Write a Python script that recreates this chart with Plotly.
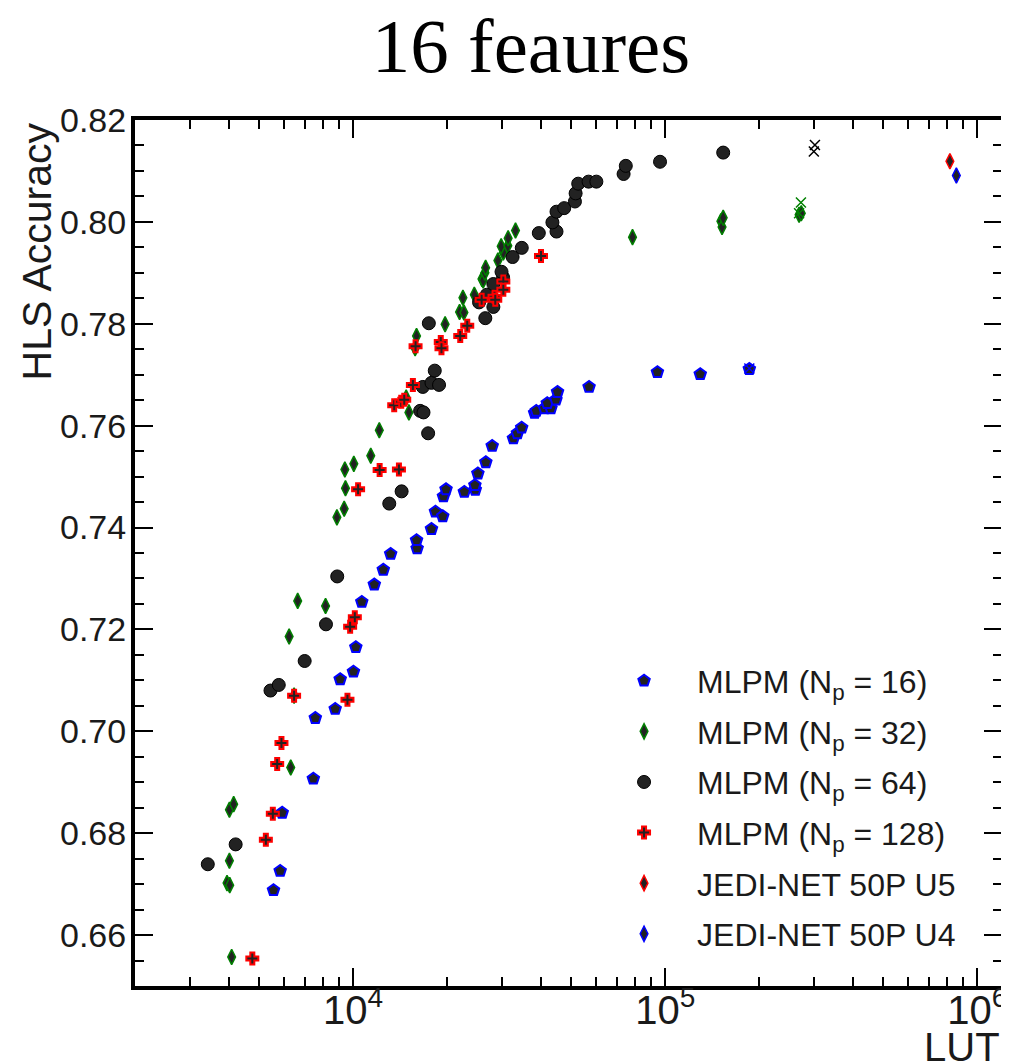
import plotly.graph_objects as go
import numpy as np

# ---------------- data (LUT, HLS accuracy) ----------------
mlpm16_lut = [5557, 5838, 5925, 7455, 7565, 8761, 9089, 10023, 10200, 10660,
              11690, 12492, 13190, 16035, 15965, 17825, 18356, 19370, 19470, 19845,
              22715, 24627, 24553, 25102, 26620, 27898, 32630, 33600, 34674, 38148,
              38625, 41055, 43030, 41880, 44650, 45180, 57020, 94430, 129500, 186000]
mlpm16_acc = [0.6688, 0.6726, 0.6840, 0.6907, 0.7026, 0.7044, 0.7102, 0.7117, 0.7165, 0.7254,
              0.7288, 0.7317, 0.7348, 0.7359, 0.7375, 0.7397, 0.7431, 0.7422, 0.7461, 0.7475,
              0.7470, 0.7474, 0.7483, 0.7506, 0.7528, 0.7560, 0.7575, 0.7585, 0.7596, 0.7625,
              0.7629, 0.7634, 0.7634, 0.7644, 0.7651, 0.7666, 0.7676, 0.7705, 0.7701, 0.7711]

mlpm32_lut = [4081, 3944, 4023, 4014, 4014, 4142, 6310, 6469, 6236, 6643,
              8160, 8872, 9361, 9450, 9408, 10051, 11390, 12130, 15090, 14790,
              15800, 15965, 19710, 21930, 22650, 22480, 24450, 25870, 26100, 26440,
              26580, 29100, 30290, 29810, 31310, 31380, 33140, 78560, 150800, 152100,
              153400, 268500, 272900]
mlpm32_acc = [0.6557, 0.6702, 0.6698, 0.6746, 0.6846, 0.6857, 0.6929, 0.7070, 0.7186, 0.7256,
              0.7246, 0.7420, 0.7437, 0.7477, 0.7514, 0.7525, 0.7541, 0.7591, 0.7626, 0.7655,
              0.7752, 0.7776, 0.7799, 0.7823, 0.7822, 0.7851, 0.7857, 0.7888, 0.7885, 0.7900,
              0.7910, 0.7924, 0.7940, 0.7952, 0.7953, 0.7968, 0.7983, 0.7970, 0.8001, 0.7990,
              0.8008, 0.8014, 0.8017]

mlpm64_lut = [3422, 4203, 5435, 5777, 6993, 8184, 8892, 13055, 14300, 17390,
              16394, 16807, 16720, 17825, 18850, 18262, 17480, 26520, 28140, 25320,
              26810, 28140, 30230, 29890, 32430, 34700, 39350, 44840, 43510, 44840,
              47460, 51370, 51630, 52630, 56810, 60170, 73560, 74760, 96250, 153400]
mlpm64_acc = [0.6739, 0.6778, 0.7080, 0.7091, 0.7138, 0.7210, 0.7304, 0.7447, 0.7471, 0.7585,
              0.7629, 0.7626, 0.7676, 0.7684, 0.7680, 0.7708, 0.7801, 0.7811, 0.7833, 0.7842,
              0.7857, 0.7878, 0.7891, 0.7902, 0.7931, 0.7949, 0.7978, 0.7981, 0.7999, 0.8020,
              0.8027, 0.8040, 0.8056, 0.8075, 0.8079, 0.8079, 0.8094, 0.8110, 0.8118, 0.8136]

mlpm128_lut = [4753, 5252, 5529, 5710, 5893, 6469, 9590, 9781, 10125, 10373,
               12160, 14020, 13540, 14260, 14580, 15540, 15850, 19090, 19190, 22040,
               23210, 25810, 28380, 28540, 30290, 30290, 39990]
mlpm128_acc = [0.6554, 0.6787, 0.6838, 0.6936, 0.6977, 0.7070, 0.7062, 0.7205, 0.7224, 0.7475,
               0.7513, 0.7514, 0.7640, 0.7647, 0.7651, 0.7680, 0.7756, 0.7764, 0.7752, 0.7776,
               0.7796, 0.7847, 0.7853, 0.7847, 0.7883, 0.7867, 0.7933]

jedi_u5_lut = [817000]
jedi_u5_acc = [0.8119]
jedi_u4_lut = [857000]
jedi_u4_acc = [0.8091]

# highlighted ("x") points
x16_lut, x16_acc = [186000], [0.7712]
x32_lut, x32_acc = [272200, 268500], [0.8038, 0.8017]
x64_lut, x64_acc = [301800, 299400], [0.8151, 0.8138]

legend_names = ["MLPM (N<sub>p</sub> = 16)", "MLPM (N<sub>p</sub> = 32)",
                "MLPM (N<sub>p</sub> = 64)", "MLPM (N<sub>p</sub> = 128)",
                "JEDI-NET 50P U5", "JEDI-NET 50P U4"]

x_major = [1e4, 1e5, 1e6]
x_major_text = ["10<sup>4</sup>", "10<sup>5</sup>", "10<sup>6</sup>"]
x_minor = [m * 10 ** e for e in (3, 4, 5) for m in range(2, 10)]

FILL = "#222222"

fig = go.Figure()


def add(xs, ys, name, symbol, size, lcolor, lwidth, fill=FILL, show=True, grp=None):
    fig.add_trace(go.Scatter(
        x=xs, y=ys, mode="markers", name=name, showlegend=show,
        legendgroup=grp if grp else name,
        marker=dict(symbol=symbol, size=size, color=fill,
                    line=dict(color=lcolor, width=lwidth)),
    ))


add(mlpm16_lut, mlpm16_acc, legend_names[0], "pentagon", 12, "#0000ff", 2)
add(mlpm32_lut, mlpm32_acc, legend_names[1], "diamond-tall", 11, "#008000", 1.5)
add(mlpm64_lut, mlpm64_acc, legend_names[2], "circle", 13, "#000000", 1)
add(mlpm128_lut, mlpm128_acc, legend_names[3], "cross", 10, "#ff0000", 2)
add(jedi_u5_lut, jedi_u5_acc, legend_names[4], "diamond-tall", 11, "#ff0000", 1.5)
add(jedi_u4_lut, jedi_u4_acc, legend_names[5], "diamond-tall", 11, "#0000ff", 1.5)
add(x16_lut, x16_acc, "x16", "x-thin", 10, "#0000ff", 1.5, fill="#0000ff", show=False, grp="g16x")
add(x32_lut, x32_acc, "x32", "x-thin", 10, "#008000", 1.5, fill="#008000", show=False, grp="g32x")
add(x64_lut, x64_acc, "x64", "x-thin", 10, "#000000", 1.5, fill="#000000", show=False, grp="g64x")

TXT = "#1a1a1a"
W, H = 1001, 1054   # page body adds an 8px margin

fig.update_layout(
    width=W, height=H,
    margin=dict(l=127, r=3, t=112, b=76),
    paper_bgcolor="white", plot_bgcolor="white",
    font=dict(family="Liberation Sans", color=TXT),
    title=dict(text="16 feaures", font=dict(family="Liberation Serif", size=77, color="#000000"),
               x=523 / W, xanchor="center", xref="container",
               y=1 - 10 / H, yanchor="top", yref="container"),
    showlegend=True,
    legend=dict(x=0.526, y=0.384, xanchor="left", yanchor="top",
                bgcolor="rgba(0,0,0,0)", borderwidth=0,
                font=dict(family="Liberation Sans", size=32, color=TXT),
                itemwidth=96, tracegroupgap=6, traceorder="grouped",
                itemsizing="trace"),
)

fig.update_xaxes(
    type="log", range=[np.log10(2000), np.log10(1.2e6)],
    tickvals=x_major, ticktext=x_major_text,
    ticks="inside", ticklen=18, tickwidth=2, tickcolor="#000000",
    showline=True, linewidth=4, linecolor="#000000", mirror="allticks",
    showgrid=False, zeroline=False, ticklabelstandoff=-14,
    tickfont=dict(family="Liberation Sans Narrow, Liberation Sans", size=40, color=TXT),
    minor=dict(tickvals=x_minor, ticks="inside", ticklen=9, tickwidth=1.5,
               tickcolor="#000000", showgrid=False),
)
fig.update_yaxes(
    range=[0.65, 0.82], tick0=0.66, dtick=0.02, tickformat=".2f",
    ticks="inside", ticklen=18, tickwidth=2, tickcolor="#000000",
    showline=True, linewidth=4, linecolor="#000000", mirror="allticks",
    showgrid=False, zeroline=False, ticklabelstandoff=-2,
    tickfont=dict(family="Liberation Sans", size=34, color=TXT),
    minor=dict(dtick=0.005, ticks="inside", ticklen=9, tickwidth=1.5,
               tickcolor="#000000", showgrid=False),
)

fig.add_annotation(text="HLS Accuracy", xref="paper", yref="paper",
                   x=-98 / 871, y=1.0, xanchor="center", yanchor="top",
                   textangle=-90, showarrow=False,
                   font=dict(family="Liberation Sans", size=41, color=TXT))
fig.add_annotation(text="LUT", xref="paper", yref="paper",
                   x=1.0, y=-37 / 866, xanchor="right", yanchor="top",
                   showarrow=False,
                   font=dict(family="Liberation Sans", size=40, color=TXT))

fig.write_html("out.html")
